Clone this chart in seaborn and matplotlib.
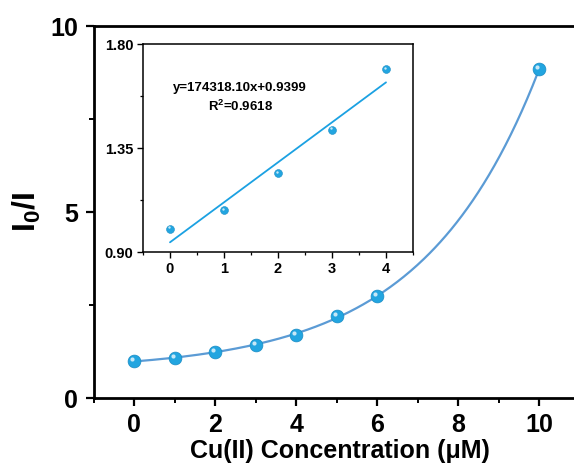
import numpy as np
import pandas as pd
import matplotlib
matplotlib.use("Agg")
import matplotlib.pyplot as plt
import matplotlib.transforms as mtransforms
import seaborn as sns
from matplotlib.ticker import MultipleLocator

# ---- data ----
conc = [0, 1, 2, 3, 4, 5, 6, 10]
ratio = [1.00, 1.08, 1.24, 1.43, 1.69, 2.20, 2.74, 8.84]
inset_conc = [0, 1, 2, 3, 4]
inset_ratio = [1.00, 1.08, 1.24, 1.43, 1.69]
eq_text = "y=174318.10x+0.9399"
r2_text = r"$\mathbf{R^2}$=0.9618"
xlabel = "Cu(II) Concentration (μM)"
ylabel = r"$\mathbf{I_0/I}$"

sns.set_style("ticks")
plt.rcParams["font.family"] = ["Liberation Sans", "DejaVu Sans"]
plt.rcParams["mathtext.fontset"] = "custom"
plt.rcParams["mathtext.rm"] = "Liberation Sans"
plt.rcParams["mathtext.bf"] = "Liberation Sans:bold"
plt.rcParams["mathtext.it"] = "Liberation Sans:italic"
for k in ["text.color", "axes.labelcolor", "xtick.color", "ytick.color", "axes.edgecolor"]:
    plt.rcParams[k] = "black"

pt_col = "#22A5E0"
curve_col = "#5B9BD5"
line_col = "#1BA1E2"

fig = plt.figure(figsize=(5.74, 4.71), dpi=100)
ax = fig.add_axes([93.5 / 574, 73 / 471, (574 - 93.5) / 574 + 0.02, (398 - 26) / 471])

# exponential fit y = y0 + A*exp(b x)
x = np.array(conc, float)
y = np.array(ratio, float)
best = None
for b in np.linspace(0.05, 1.0, 2000):
    M = np.column_stack([np.ones_like(x), np.exp(b * x)])
    coef, res, *_ = np.linalg.lstsq(M, y, rcond=None)
    err = np.sum((M @ coef - y) ** 2)
    if best is None or err < best[0]:
        best = (err, b, coef)
_, b, coef = best
xs = np.linspace(0, 10, 300)
fit_df = pd.DataFrame({"x": xs, "y": coef[0] + coef[1] * np.exp(b * xs)})
sns.lineplot(data=fit_df, x="x", y="y", ax=ax, color=curve_col, lw=1.6, zorder=2)

df = pd.DataFrame({"x": conc, "y": ratio})
sns.scatterplot(data=df, x="x", y="y", ax=ax, s=85, color=pt_col,
                edgecolor="#1A8CC4", linewidth=0.5, zorder=3)
hl = ax.transData + mtransforms.ScaledTranslation(-1.4 / 72, 1.6 / 72, fig.dpi_scale_trans)
ax.scatter(conc, ratio, s=9, color="white", alpha=0.75, linewidth=0,
           transform=hl, zorder=4)

ax.set_xlim(-1.01, 10.86 + 0.02 * 574 / 40.5)
ax.set_ylim(0, 10)
ax.xaxis.set_major_locator(MultipleLocator(2))
ax.xaxis.set_minor_locator(MultipleLocator(1))
ax.yaxis.set_major_locator(MultipleLocator(5))
ax.yaxis.set_minor_locator(MultipleLocator(2.5))
ax.tick_params(which="major", length=6, width=1.6, labelsize=18, pad=5)
ax.tick_params(which="minor", length=3.5, width=1.4)
for lab in ax.get_xticklabels() + ax.get_yticklabels():
    lab.set_fontweight("bold")
for s in ["left", "bottom", "top"]:
    ax.spines[s].set_linewidth(2.0)
ax.spines["right"].set_visible(False)
ax.set_xlabel(xlabel, fontsize=18, fontweight="bold", labelpad=1)
ax.set_ylabel(ylabel, fontsize=23, labelpad=5)

# ---- inset ----
axi = fig.add_axes([143 / 574, (471 - 252) / 471, 270 / 574, 208 / 471])
idf = pd.DataFrame({"x": inset_conc, "y": inset_ratio})
sns.regplot(data=idf, x="x", y="y", ax=axi, ci=None, scatter=False,
            line_kws=dict(color=line_col, lw=1.3))
sns.scatterplot(data=idf, x="x", y="y", ax=axi, s=32, color=pt_col,
                edgecolor="#1A8CC4", linewidth=0.4, zorder=3)
hli = axi.transData + mtransforms.ScaledTranslation(-0.8 / 72, 1.0 / 72, fig.dpi_scale_trans)
axi.scatter(inset_conc, inset_ratio, s=3, color="white", alpha=0.75, linewidth=0,
            transform=hli, zorder=4)
axi.set_xlim(-0.5, 4.5)
axi.set_ylim(0.9, 1.8)
axi.xaxis.set_major_locator(MultipleLocator(1))
axi.xaxis.set_minor_locator(MultipleLocator(0.5))
axi.set_yticks([0.90, 1.35, 1.80])
axi.set_yticklabels(["0.90", "1.35", "1.80"])
axi.yaxis.set_minor_locator(MultipleLocator(0.225))
axi.tick_params(which="major", length=4, width=1.0, labelsize=10.5, pad=3)
axi.tick_params(which="minor", length=2.5, width=0.9)
for lab in axi.get_xticklabels() + axi.get_yticklabels():
    lab.set_fontweight("bold")
for s in axi.spines.values():
    s.set_linewidth(1.1)
    s.set_visible(True)
axi.set_xlabel("")
axi.set_ylabel("")
axi.text(0.36, 0.79, eq_text, transform=axi.transAxes, ha="center", va="center",
         fontsize=9.5, fontweight="bold")
axi.text(0.36, 0.70, r2_text, transform=axi.transAxes, ha="center", va="center",
         fontsize=9.5, fontweight="bold")

fig.savefig("out.png", dpi=100)
